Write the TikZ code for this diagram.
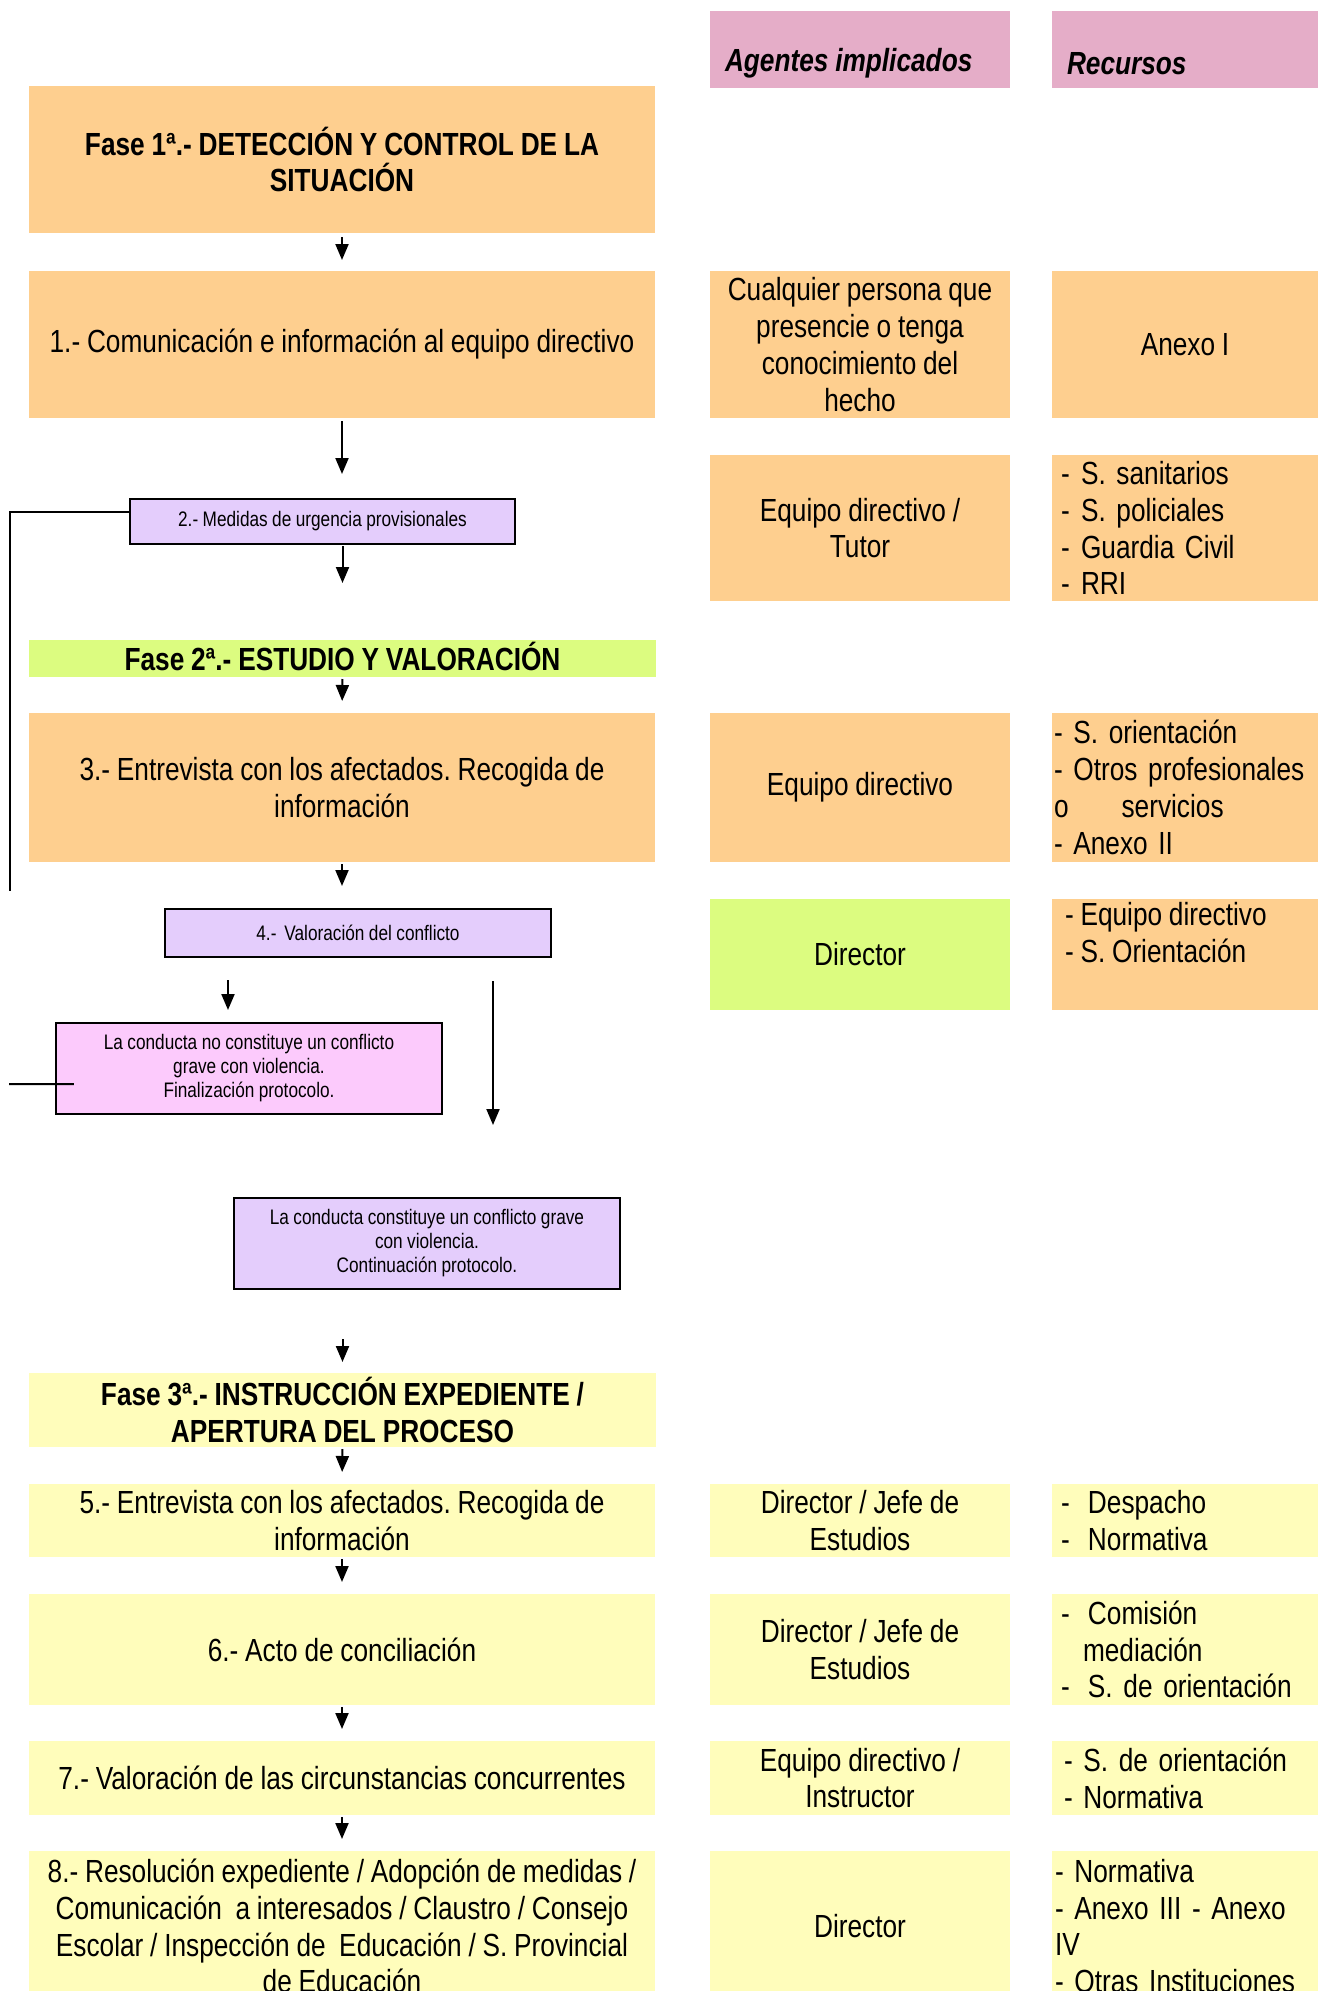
\documentclass[tikz,border=0pt]{standalone}
\usepackage{fontspec}
\setmainfont{Liberation Sans}[FakeStretch=0.82, WordSpace=0.93]
\usepackage{tikz}
\usetikzlibrary{arrows.meta, calc}

\definecolor{orangecell}{RGB}{254,207,143}
\definecolor{pinkhead}{RGB}{229,173,200}
\definecolor{greencell}{RGB}{220,252,128}
\definecolor{yellowcell}{RGB}{255,253,187}
\definecolor{lilaccell}{RGB}{228,205,252}
\definecolor{pinkcell}{RGB}{252,202,252}

\newcommand{\bodyfont}{\fontsize{32bp}{36.8bp}\selectfont}
\newcommand{\smallfont}{\fontsize{21bp}{24bp}\selectfont}
\newcommand{\tabdash}{\makebox[20bp][l]{-}}
\frenchspacing

\begin{document}
\begin{tikzpicture}[x=1bp, y=-1bp, line width=2bp,
  >={Triangle[length=16bp,width=13bp]},
  cell/.style={fill=#1, inner sep=0pt, outer sep=0pt, align=center, font=\bodyfont},
  framed/.style={cell=#1, draw, line width=2.5bp, font=\smallfont},
  listtext/.style={inner sep=0pt, align=left, anchor=north west, font=\bodyfont}]

\useasboundingbox (0,0) rectangle (1318,1991);
\clip (0,0) rectangle (1318,1991);

% column heads
\node [cell=pinkhead, minimum width=300bp, minimum height=77bp] (hAg) at (860,49.5) {};
\node [listtext, anchor=west, font=\bodyfont\bfseries\itshape] at ($(hAg.west)+(14,14)$) {Agentes implicados};
\node [cell=pinkhead, minimum width=266bp, minimum height=77bp] (hRe) at (1185,49.5) {};
\node [listtext, anchor=west, font=\bodyfont\bfseries\itshape] at ($(hRe.west)+(14,14)$) {Recursos};

% fase 1
\node [cell=orangecell, minimum width=626bp, minimum height=147bp, font=\bodyfont\bfseries] (f1) at (342,159.5) {Fase 1ª.- DETECCIÓN Y CONTROL DE LA\\SITUACIÓN};

\node [cell=orangecell, minimum width=626bp, minimum height=147bp] (b1) at (342,344.5) {1.- Comunicación e información al equipo directivo};
\node [cell=orangecell, minimum width=300bp, minimum height=147bp] (a1) at (860,344.5) {Cualquier persona que\\presencie o tenga\\conocimiento del\\hecho};
\node [cell=orangecell, minimum width=266bp, minimum height=147bp] (r1) at (1185,344.5) {Anexo I};

\node [framed=lilaccell, minimum width=385bp, minimum height=45bp] (m2) at (322.5,521.5) {2.- Medidas de urgencia provisionales};
\node [cell=orangecell, minimum width=300bp, minimum height=146bp] (a2) at (860,528) {Equipo directivo /\\Tutor};
\node [cell=orangecell, minimum width=266bp, minimum height=146bp, align=left, text width=248bp] (r2) at (1185,528) {\tabdash S. sanitarios\\\tabdash S. policiales\\\tabdash Guardia Civil\\\tabdash RRI};

% fase 2
\node [cell=greencell, minimum width=627bp, minimum height=37bp, font=\bodyfont\bfseries] (f2) at (342.5,658.5) {\raisebox{5bp}{Fase 2ª.- ESTUDIO Y VALORACIÓN}};

\node [cell=orangecell, minimum width=626bp, minimum height=149bp] (b3) at (342,787.5) {3.- Entrevista con los afectados. Recogida de\\información};
\node [cell=orangecell, minimum width=300bp, minimum height=149bp] (a3) at (860,787.5) {Equipo directivo};
\node [cell=orangecell, minimum width=266bp, minimum height=149bp, align=left, text width=262bp] (r3) at (1185,787.5) {- S. orientación\\- Otros profesionales\\o\hspace{53bp}servicios\\- Anexo II};

\node [framed=lilaccell, minimum width=386bp, minimum height=48bp] (v4) at (358,933) {4.- \,Valoración del conflicto};
\node [cell=greencell, minimum width=300bp, minimum height=111bp] (a4) at (860,954.5) {Director};
\node [cell=orangecell, minimum width=266bp, minimum height=111bp] (r4) at (1185,954.5) {};
\node [listtext] at ($(r4.north west)+(12,2)$) {- Equipo directivo\\- S. Orientación};

\node [framed=pinkcell, minimum width=386bp, minimum height=91bp] (nc) at (249,1068.5) {La conducta no constituye un conflicto\\grave con violencia.\\Finalización protocolo.};
\node [framed=lilaccell, minimum width=386bp, minimum height=91bp] (gc) at (427,1243.5) {La conducta constituye un conflicto grave\\con violencia.\\Continuación protocolo.};

% fase 3
\node [cell=yellowcell, minimum width=627bp, minimum height=74bp, font=\bodyfont\bfseries] (f3) at (342.5,1410) {Fase 3ª.- INSTRUCCIÓN EXPEDIENTE /\\APERTURA DEL PROCESO};

\node [cell=yellowcell, minimum width=626bp, minimum height=73bp] (b5) at (342,1520.5) {5.- Entrevista con los afectados. Recogida de\\información};
\node [cell=yellowcell, minimum width=300bp, minimum height=73bp] (a5) at (860,1520.5) {Director / Jefe de\\Estudios};
\node [cell=yellowcell, minimum width=266bp, minimum height=73bp, align=left, text width=248bp] (r5) at (1185,1520.5) {\makebox[27bp][l]{-}Despacho\\\makebox[27bp][l]{-}Normativa};

\node [cell=yellowcell, minimum width=626bp, minimum height=111bp] (b6) at (342,1649.5) {6.- Acto de conciliación};
\node [cell=yellowcell, minimum width=300bp, minimum height=111bp] (a6) at (860,1649.5) {Director / Jefe de\\Estudios};
\node [cell=yellowcell, minimum width=266bp, minimum height=111bp, align=left, text width=248bp] (r6) at (1185,1649.5) {\makebox[27bp][l]{-}Comisión\\\hspace{22bp}mediación\\\makebox[27bp][l]{-}S. de orientación};

\node [cell=yellowcell, minimum width=626bp, minimum height=74bp] (b7) at (342,1778) {7.- Valoración de las circunstancias concurrentes};
\node [cell=yellowcell, minimum width=300bp, minimum height=74bp] (a7) at (860,1778) {Equipo directivo /\\Instructor};
\node [cell=yellowcell, minimum width=266bp, minimum height=74bp, align=left, text width=242bp] (r7) at (1185,1778) {- S. de orientación\\- Normativa};

\node [cell=yellowcell, minimum width=626bp, minimum height=150bp] (b8) at (342,1926) {8.- Resolución expediente / Adopción de medidas /\\Comunicación \ a interesados / Claustro / Consejo\\Escolar / Inspección de \ Educación / S. Provincial\\de Educación};
\node [cell=yellowcell, minimum width=300bp, minimum height=150bp] (a8) at (860,1926) {Director};
\node [cell=yellowcell, minimum width=266bp, minimum height=150bp, align=left, text width=260bp] (r8) at (1185,1926) {- Normativa\\- Anexo III - Anexo\\IV\\- Otras Instituciones};

% arrows
\draw[->, shorten <=4bp, shorten >=11bp] (f1.south) -- (b1.north);
\draw[->, shorten <=3bp, shorten >=25bp] (b1.south) -- (b1.south |- m2.north);
\draw[->, shorten <=2bp, shorten >=57bp] (m2.south -| f2.north) -- (f2.north);
\draw[->, shorten <=2bp, shorten >=12bp] (f2.south) -- (b3.north);
\draw[->, shorten <=2bp, shorten >=23bp] (b3.south) -- (b3.south |- v4.north);
\draw[->] ($(v4.south -| nc.north)+(-21,23)$) -- ($(nc.north)+(-21,-13)$);
\draw[->] ($(v4.south east)+(-58,24)$) -- ($(gc.north east)+(-127,-73)$);
\draw[->, shorten >=11bp] ($(f3.north)+(0,-34)$) -- (f3.north);
\draw[->, shorten <=2bp, shorten >=12bp] (f3.south) -- (b5.north);
\draw[->, shorten <=2bp, shorten >=12bp] (b5.south) -- (b6.north);
\draw[->, shorten <=2bp, shorten >=12bp] (b6.south) -- (b7.north);
\draw[->, shorten <=2bp, shorten >=12bp] (b7.south) -- (b8.north);

% return lines on the left
\coordinate (backEnd) at (10,891);
\coordinate (backIn) at (9,1084);
\draw ([yshift=10bp]m2.west) -| (backEnd);
\draw (backIn) -- ($(nc.west)+(18,15.5)$);

\end{tikzpicture}
\end{document}
